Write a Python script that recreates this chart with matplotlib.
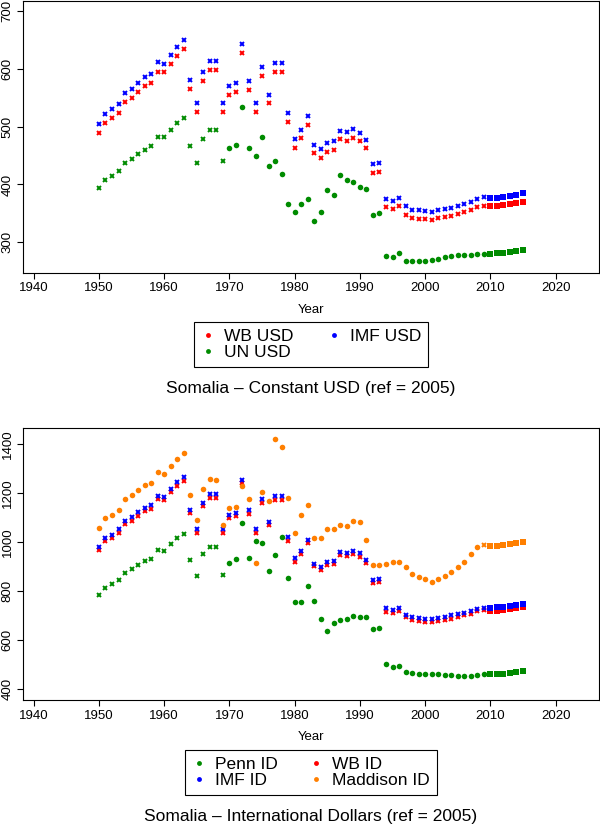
import matplotlib
matplotlib.use("Agg")
import matplotlib.pyplot as plt
from matplotlib.lines import Line2D
import numpy as np

plt.rcParams['font.family'] = ['Liberation Sans', 'DejaVu Sans']

years = list(range(1950, 2016))

# ---- Top panel: constant USD (ref = 2005)
wb_usd = [489, 507, 514.5, 524, 542, 550, 560, 570, 575, 595.5, 594, 609, 623, 634, 566, 525.5, 580, 599, 598, 525,
          555, 560, 628, 564, 525, 587, 540.5, 594, 594, 509, 464,
          480, 503, 454, 446, 457, 460, 478, 476, 480, 475, 462.5, 420, 421, 361, 358, 362, 347, 342, 341, 340,
          338, 341.5, 343, 346, 348.5, 352.5, 356, 360.5, 363, 362.5, 363, 365, 366.5, 368, 370]
imf_usd = [505, 522.5, 530, 539, 558, 566, 576, 585.5, 591.5, 611.5, 609, 625, 638, 650, 581.5, 541, 595.5, 614.5, 614, 540.5,
           570.5, 576, 643.5, 580, 541, 603.5, 555.5, 610, 610, 524, 479,
           495, 518.5, 469, 461, 472, 474.5, 493, 491.5, 496, 490, 477.5, 435, 436.5, 375, 372, 377, 362, 356, 355, 354,
           352, 355.5, 358, 360, 362.5, 366.5, 370.5, 375, 377.5, 376.5, 377, 378.5, 380, 382, 384.5]
un_usd = [393.5, 407.5, 414.5, 422.5, 437.5, 444, 452.5, 460.5, 466.5, 482, 481.5, 494, 506, 515, 466, 436.5, 478, 493.5, 495, 440,
          464, 468, 533.5, 462.5, 450, 483, 432.5, 440.5, 419, 366.5, 353,
          366.5, 375.5, 337, 353, 390, 381.5, 416, 408.5, 404, 396, 393, 348, 350, 277, 275, 281.5, 268, 267, 267.5, 267.5,
          269, 271, 274, 275.5, 277.5, 277.5, 278.5, 280, 280.5, 280.5, 281, 282, 283, 284.5, 286]

# ---- Bottom panel: international dollars (ref = 2005)
penn_id = [786, 815, 829, 845, 876, 890, 906, 924, 933, 967, 965, 992, 1016, 1035, 927, 861, 951, 982, 982, 865,
           916, 931, 1080, 935, 1005, 995, 883, 946, 1020, 853, 756,
           754, 823, 761, 686, 638, 669, 682, 688, 699, 694, 693, 645, 648, 502, 491, 495, 469, 465, 464, 464,
           464, 464, 459, 457, 454, 456, 456, 457, 461, 461, 463, 464, 467, 469, 473]
wb_id = [969, 1004, 1019, 1038, 1073, 1088, 1107, 1128, 1137, 1177, 1173, 1203, 1230, 1250, 1118, 1039, 1146, 1182, 1182, 1039,
         1097, 1107, 1241, 1116, 1039, 1162, 1069, 1173, 1173, 1007, 920,
         950, 997, 901, 886, 907, 910, 947, 943, 951, 941, 916, 833, 837, 717, 713, 721, 693, 682, 679, 676,
         675, 680, 683, 688, 694, 702, 709, 718, 722, 721, 721, 724, 727, 731, 735]
imf_id = [982, 1018, 1031, 1052, 1088, 1103, 1122, 1141, 1151, 1189, 1186, 1216, 1244, 1265, 1133, 1056, 1162, 1197, 1195, 1054,
          1113, 1121, 1253, 1131, 1054, 1177, 1084, 1188, 1188, 1022, 935,
          963, 1010, 913, 899, 920, 924, 959, 956, 963, 954, 929, 846, 849, 731, 725, 733, 703, 694, 691, 688,
          685, 691, 695, 701, 706, 713, 721, 729, 733, 733, 735, 737, 740, 744, 748]
maddison_id = [1057, 1098, 1113, 1133, 1175, 1192, 1212, 1233, 1242, 1288, 1279, 1313, 1341, 1366, 1192, 1090, 1216, 1260, 1253, 1072,
               1139, 1143, 1230, 1178, 916, 1203, 1169, 1422, 1390, 1182, 1038,
               1113, 1152, 1016, 1016, 1056, 1052, 1069, 1065, 1088, 1083, 1008, 906, 907, 912, 918, 921, 898, 869, 860, 849,
               837, 850, 864, 880, 898, 921, 951, 980, 988, 985, 986, 989, 992, 996, 1000]

RED, BLUE, GREEN, ORANGE = '#FF0000', '#0000FF', '#008B00', '#FF7F00'

W, H = 600, 826
fig = plt.figure(figsize=(W / 100, H / 100), dpi=100)


def ax_at(x0, y0, x1, y1):
    return fig.add_axes([x0 / W, 1 - y1 / H, (x1 - x0) / W, (y1 - y0) / H])


def marker_kind(year, obs_from, est_years=()):
    # 'x' = estimated, 'o' = observed, 's' = projection
    if year >= 2010:
        return 's'
    if year in est_years:
        return 'x'
    if obs_from is not None and year >= obs_from:
        return 'o'
    return 'x'


def plot_series(ax, vals, color, obs_from=None, est_years=()):
    yr = np.array(years)
    v = np.array(vals, dtype=float)
    kinds = np.array([marker_kind(y, obs_from, est_years) for y in years])
    m = kinds == 'x'
    ax.plot(yr[m], v[m], linestyle='none', marker='x', color=color, ms=3.2, mew=1.4)
    m = kinds == 'o'
    ax.plot(yr[m], v[m], linestyle='none', marker='o', color=color, ms=4.0, mew=0)
    m = kinds == 's'
    ax.plot(yr[m], v[m], linestyle='none', marker='s', color=color, ms=4.0, mew=0)


def style(ax, yticks, ylim):
    ax.set_xlim(1938.4, 2026.7)
    ax.set_ylim(*ylim)
    ax.set_xticks(range(1940, 2021, 10))
    ax.set_yticks(yticks)
    ax.tick_params(axis='both', direction='out', length=4.5, width=0.8, labelsize=9.5, pad=2.5,
                   top=False, right=False)
    for lab in ax.get_yticklabels():
        lab.set_rotation(90)
        lab.set_va('center')
    for s in ax.spines.values():
        s.set_linewidth(0.8)


def legend(labels, colors, cx, top, colsp):
    handles = [Line2D([], [], linestyle='none', marker='o', color=c, ms=3.5, mew=0) for c in colors]
    leg = fig.legend(handles, labels, ncol=2, loc='upper center',
                     bbox_to_anchor=(cx / W, 1 - top / H), fontsize=12.5,
                     frameon=True, fancybox=False, edgecolor='black', framealpha=1,
                     handlelength=0.8, handletextpad=0.55, columnspacing=colsp,
                     labelspacing=0.05, borderpad=0.4, borderaxespad=0)
    leg.get_frame().set_linewidth(0.8)
    return leg


# Top panel
ax1 = ax_at(23.3, 0.8, 599.3, 272.7)
plot_series(ax1, wb_usd, RED)
plot_series(ax1, imf_usd, BLUE)
plot_series(ax1, un_usd, GREEN, obs_from=1970)
style(ax1, [300, 400, 500, 600, 700], (247.3, 718.0))
fig.text(311 / W, 1 - 310 / H, 'Year', ha='center', va='center', fontsize=9.5)
legend(['WB USD', 'UN USD', 'IMF USD'], [RED, GREEN, BLUE], 311, 322.3, 1.9)
fig.text(311 / W, 1 - 388 / H, 'Somalia \u2013 Constant USD (ref = 2005)', ha='center', va='center', fontsize=12.5)

# Bottom panel
ax2 = ax_at(23.3, 428.3, 599.3, 700.0)
plot_series(ax2, penn_id, GREEN, obs_from=1970)
plot_series(ax2, wb_id, RED)
plot_series(ax2, imf_id, BLUE)
plot_series(ax2, maddison_id, ORANGE, obs_from=1950, est_years=(2009,))
style(ax2, [400, 600, 800, 1000, 1200, 1400], (356, 1465))
fig.text(311 / W, 1 - 737 / H, 'Year', ha='center', va='center', fontsize=9.5)
legend(['Penn ID', 'IMF ID', 'WB ID', 'Maddison ID'], [GREEN, BLUE, RED, ORANGE], 311, 750, 1.75)
fig.text(311 / W, 1 - 816.5 / H, 'Somalia \u2013 International Dollars (ref = 2005)', ha='center', va='center', fontsize=12.5)

fig.savefig('out.png', dpi=100)
